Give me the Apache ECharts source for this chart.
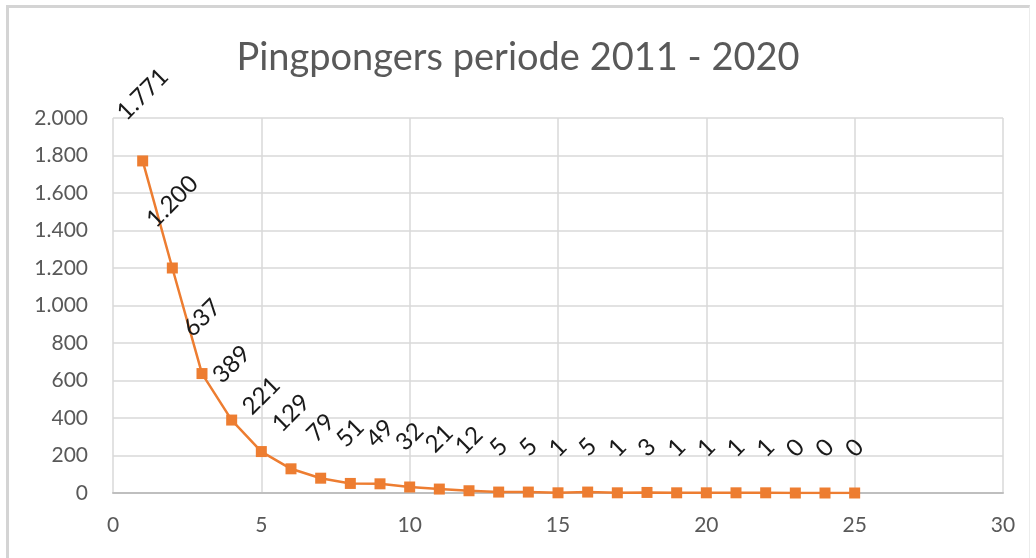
<!DOCTYPE html>
<html>
<head>
<meta charset="utf-8">
<script src="https://cdn.jsdelivr.net/npm/echarts@6/dist/echarts.min.js"></script>
<style>
html,body{margin:0;padding:0;background:#fff;}
#frame{position:absolute;left:6px;top:5px;width:1024px;height:560px;border-left:3px solid #d4d4d4;border-top:3px solid #d4d4d4;border-right:1px solid #ececec;box-sizing:border-box;}
#chart{position:absolute;left:0;top:0;width:1036px;height:558px;}
</style>
</head>
<body>
<div id="frame"></div>
<div id="chart"></div>
<script>
const xValues = [1,2,3,4,5,6,7,8,9,10,11,12,13,14,15,16,17,18,19,20,21,22,23,24,25];
const yValues = [1771,1200,637,389,221,129,79,51,49,32,21,12,5,5,1,5,1,3,1,1,1,1,0,0,0];
const titleText = 'Pingpongers periode 2011 - 2020';

function fmt(v){ return String(v).replace(/\B(?=(\d{3})+(?!\d))/g, '.'); }

const seriesData = xValues.map((x, i) => {
  const txt = fmt(yValues[i]);
  return {
    value: [x, yValues[i]],
    label: { distance: 34 + 5.4 * txt.length }
  };
});

const chart = echarts.init(document.getElementById('chart'), null, {renderer:'canvas'});
chart.setOption({
  animation: false,
  backgroundColor: 'transparent',
  title: {
    text: titleText, left: 'center', top: 34,
    textStyle: { fontFamily: 'Lato', fontWeight: 'normal', fontSize: 38, color: '#595959' }
  },
  grid: { left: 113, right: 33, top: 118, bottom: 65 },
  xAxis: {
    type: 'value', min: 0, max: 30, interval: 5,
    axisLine: { show: true, lineStyle: { color: '#bfbfbf', width: 2 } },
    axisTick: { show: false },
    splitLine: { show: true, lineStyle: { color: '#d9d9d9', width: 1.5 } },
    axisLabel: { fontFamily: 'Lato', fontSize: 21, color: '#595959', margin: 22 }
  },
  yAxis: {
    type: 'value', min: 0, max: 2000, interval: 200,
    axisLine: { show: false },
    axisTick: { show: false },
    splitLine: { show: true, lineStyle: { color: '#d9d9d9', width: 1.5 } },
    axisLabel: { fontFamily: 'Lato', fontSize: 21, color: '#595959', margin: 25, formatter: v => fmt(v) }
  },
  series: [{
    type: 'line',
    data: seriesData,
    symbol: 'rect', symbolSize: 11,
    itemStyle: { color: '#ED7D31' },
    lineStyle: { color: '#ED7D31', width: 2.5 },
    label: {
      show: true, position: 'top', rotate: 45,
      align: 'center', verticalAlign: 'middle',
      fontFamily: 'Lato', fontSize: 24, color: '#1a1a1a',
      formatter: p => fmt(p.value[1])
    }
  }]
});
</script>
</body>
</html>
